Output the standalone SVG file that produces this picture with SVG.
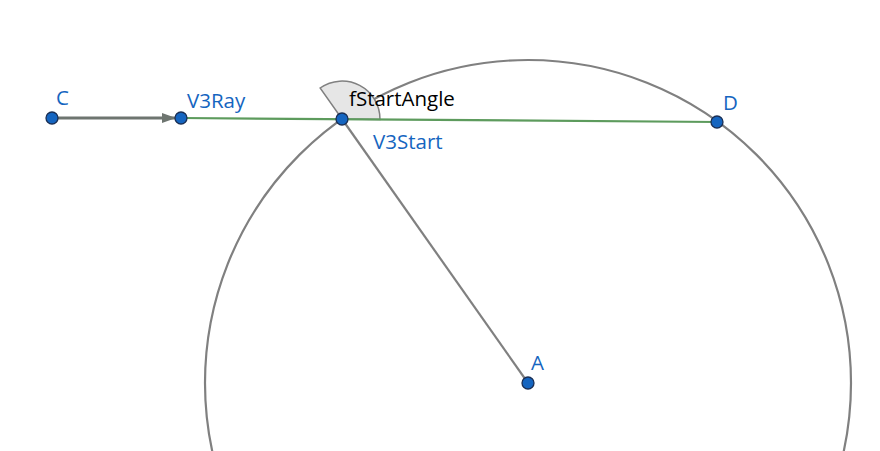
<svg xmlns="http://www.w3.org/2000/svg" width="880" height="451" viewBox="0 0 880 451">
<defs>
<style>
.lbl{font-family:"Open Sans","Noto Sans","Liberation Sans",sans-serif;font-size:20.5px;fill:#1565c0}
.blk{font-family:"Open Sans","Noto Sans","Liberation Sans",sans-serif;font-size:20.5px;fill:#000}
.pt{fill:#1565c0;stroke:#1a2f55;stroke-width:1.3}
</style>
<marker id="arr" markerWidth="14" markerHeight="10" refX="13" refY="5" orient="auto" markerUnits="userSpaceOnUse">
<path d="M0,0 L14,5 L0,10 Z" fill="#6e7570"/>
</marker>
</defs>
<rect width="880" height="451" fill="#fff"/>
<g id="connectors">
<circle cx="528" cy="383" r="323" fill="none" stroke="#808080" stroke-width="2.2"/>
<path id="angle" d="M342,119 L380,119.4 A38,38 0 0 0 320.1,88 Z" fill="#e6e6e6" stroke="#808080" stroke-width="1.5"/>
<line x1="342" y1="119" x2="528" y2="383" stroke="#808080" stroke-width="2.2"/>
<line x1="181" y1="118" x2="717" y2="122" stroke="#5d9b5d" stroke-width="2.2"/>
<line x1="52" y1="118" x2="175" y2="118" stroke="#6e7570" stroke-width="2.8" marker-end="url(#arr)"/>
</g>
<g id="C"><circle class="pt" cx="52" cy="118" r="6"/><text class="lbl" x="56" y="105">C</text></g>
<g id="V3Ray"><circle class="pt" cx="181" cy="118" r="6"/><text class="lbl" x="187" y="108">V3Ray</text></g>
<g id="V3Start"><circle class="pt" cx="342" cy="119" r="6"/><text class="lbl" x="373" y="149">V3Start</text></g>
<g id="D"><circle class="pt" cx="717" cy="122" r="6"/><text class="lbl" x="723" y="110">D</text></g>
<g id="A"><circle class="pt" cx="528" cy="383" r="6"/><text class="lbl" x="531" y="370">A</text></g>
<g id="fStartAngle"><text class="blk" x="349" y="106">fStartAngle</text></g>
</svg>
